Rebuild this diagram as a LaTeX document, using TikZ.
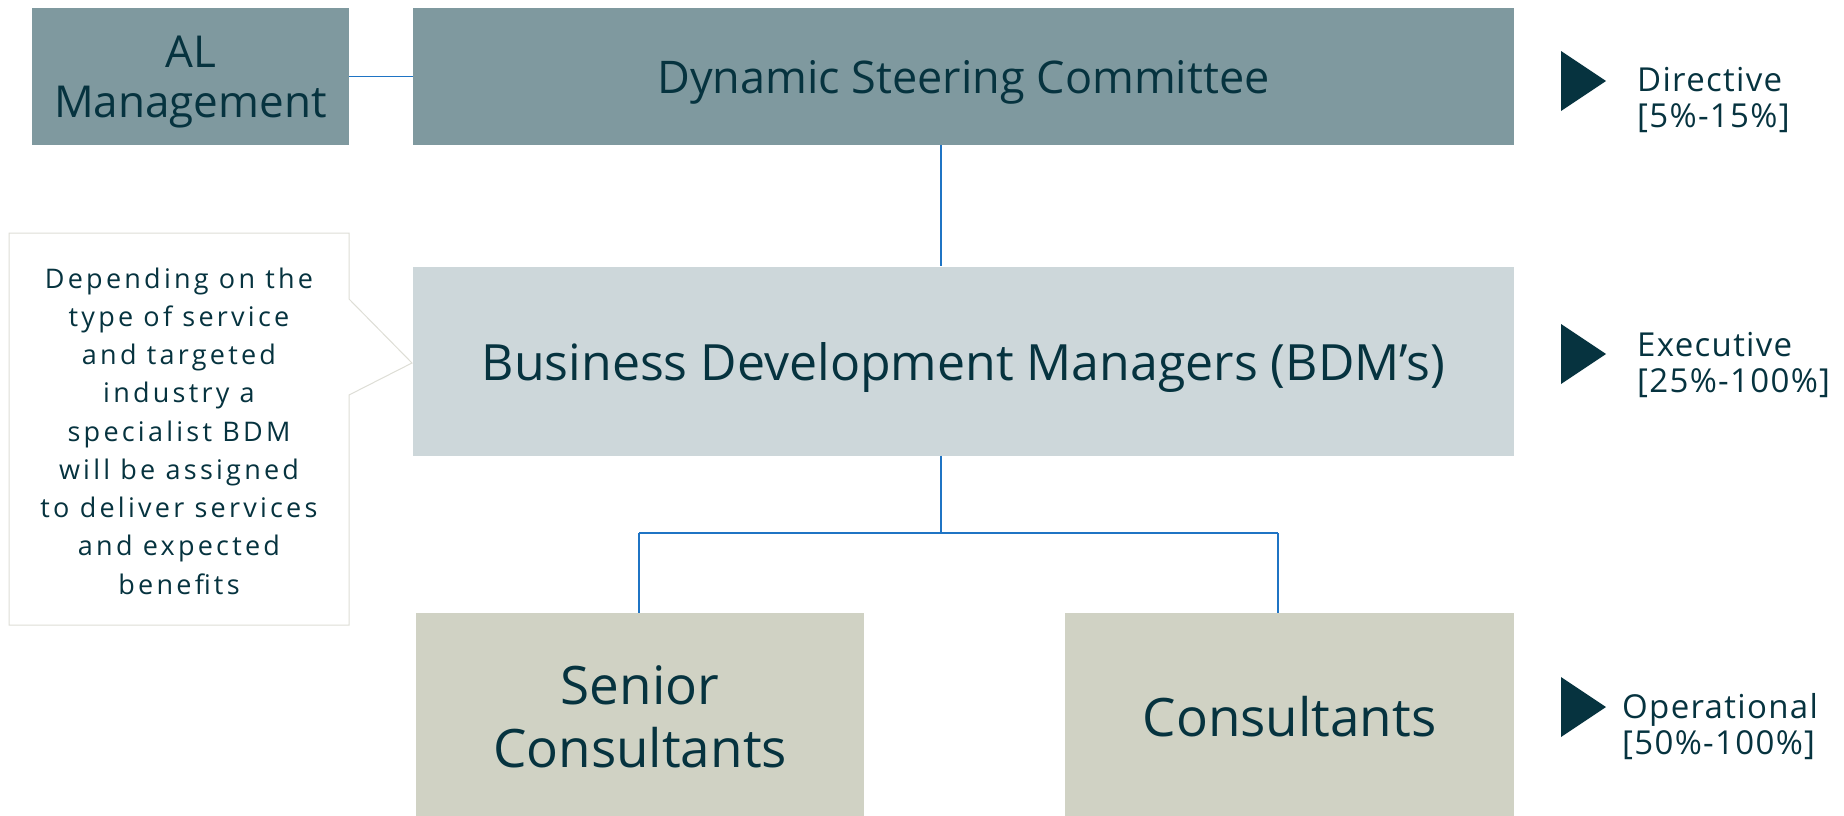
\documentclass[tikz,border=0pt]{standalone}
\usepackage{fontspec}
\setmainfont{Open Sans}
\newfontfamily\wideface[LetterSpace=12]{Open Sans}
\newfontfamily\levelface[LetterSpace=4]{Open Sans}
\definecolor{inkteal}{HTML}{06333F}
\definecolor{slate}{HTML}{7F999F}
\definecolor{mist}{HTML}{CDD7DA}
\definecolor{sage}{HTML}{D0D2C4}
\definecolor{linkblue}{HTML}{1F74C4}
\definecolor{noteline}{HTML}{DEDED6}
\begin{document}
\begin{tikzpicture}[x=1pt,y=-1pt,
    every node/.style={text=inkteal},
    tile/.style={inner sep=0pt,align=center},
    link/.style={draw=linkblue,line width=1.6pt},
    lvl/.style={anchor=west,align=left,inner sep=0pt,font=\levelface\fontsize{33}{36}\selectfont}]
        \useasboundingbox (0,0) rectangle (1844,815);
        \clip (0,0) rectangle (1844,815);
        % boxes
        \node[tile,fill=slate,minimum width=317pt,minimum height=137pt,text depth=0pt,font=\fontsize{44}{50}\selectfont] (al) at (190.5,76.5) {AL\\Management};
        \node[tile,fill=slate,minimum width=1101pt,minimum height=137pt,text depth=0pt,font=\fontsize{45}{50}\selectfont] (dsc) at (963.5,76.5) {Dynamic Steering Committee};
        \node[tile,fill=mist,minimum width=1101pt,minimum height=189pt,text depth=0pt,font=\fontsize{50}{50}\selectfont] (bdm) at (963.5,361) {Business Development Managers (BDM’s)};
        \node[tile,fill=sage,minimum width=448pt,minimum height=208pt,font=\fontsize{53}{63}\selectfont] (senior) at (640,717) {Senior\\Consultants};
        \node[tile,fill=sage,minimum width=449pt,minimum height=208pt,font=\fontsize{53}{63}\selectfont] (cons) at (1289.5,717) {Consultants};
        % callout
        \draw[noteline,fill=white,line width=1pt]
            (9,233) -- (349,233) -- (349,299) -- (412,363) -- (349,395) -- (349,625) -- (9,625) -- cycle;
        \node[tile,font=\wideface\fontsize{27}{38.25}\selectfont] (note) at (179,431) {Depending on the\\type of service\\and targeted\\industry a\\specialist BDM\\will be assigned\\to deliver services\\and expected\\benefits};
        % connectors
        \coordinate (hub) at (941,533);
        \coordinate (jl) at (639,533);
        \coordinate (jr) at (1278,533);
        \draw[link] (al.east) -- (dsc.west);
        \draw[link] (dsc.south -| hub) -- (bdm.north -| hub);
        \draw[link] (bdm.south -| hub) -- (hub);
        \draw[link] (jl) -- (jr);
        \draw[link] (jl) -- (jl |- senior.north);
        \draw[link] (jr) -- (jr |- cons.north);
        % levels
        \foreach \y in {81,354,707}
            \fill[inkteal] (1561,\y-30) -- (1606,\y) -- (1561,\y+30) -- cycle;
        \node[lvl] (dir) at (1637,100) {Directive\\{}[5\%-15\%]};
        \node[lvl] (exe) at (1637,365) {Executive\\{}[25\%-100\%]};
        \node[lvl] (ops) at (1622,727) {Operational\\{}[50\%-100\%]};
\end{tikzpicture}
\end{document}
